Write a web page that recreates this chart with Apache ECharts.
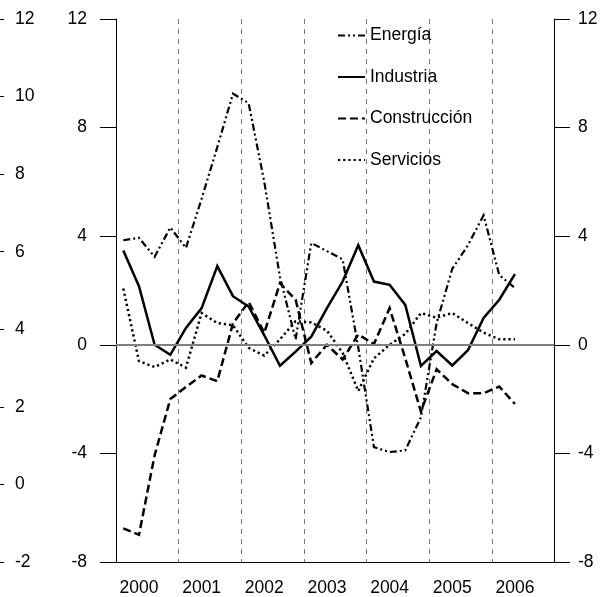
<!DOCTYPE html>
<html>
<head>
<meta charset="utf-8">
<script src="https://cdn.jsdelivr.net/npm/echarts@6/dist/echarts.min.js"></script>
<style>
html,body{margin:0;padding:0;background:#fff;overflow:hidden;width:100%;height:100%;}
#chart{width:100vw;height:100vh;}
</style>
</head>
<body>
<div id="chart"></div>
<script>
// ---- data (quarterly) ----
const years = ['2000', '2001', '2002', '2003', '2004', '2005', '2006'];
const seriesNames = ['Energía', 'Industria', 'Construcción', 'Servicios'];
const energia = [3.85, 3.94, 3.24, 4.32, 3.57, 5.38, 7.28, 9.25, 8.9, 6.0, 2.5, 0.2, 3.75, 3.45, 3.15, -0.1, -3.77, -3.95, -3.89, -2.67, 0.8, 2.8, 3.67, 4.77, 2.57, 2.09];
const industria = [3.47, 2.16, 0.0, -0.37, 0.62, 1.35, 2.9, 1.79, 1.41, 0.35, -0.77, -0.25, 0.3, 1.35, 2.33, 3.67, 2.33, 2.21, 1.47, -0.78, -0.23, -0.76, -0.2, 0.99, 1.66, 2.6];
const construccion = [-6.76, -7.0, -4.07, -2.0, -1.55, -1.13, -1.34, 0.78, 1.58, 0.44, 2.27, 1.66, -0.67, 0.0, -0.54, 0.38, 0.03, 1.35, -0.5, -2.46, -0.9, -1.45, -1.78, -1.78, -1.54, -2.18];
const servicios = [2.07, -0.6, -0.82, -0.54, -0.84, 1.17, 0.8, 0.72, -0.11, -0.4, 0.2, 0.87, 0.82, 0.52, -0.3, -1.7, -0.5, 0.0, 0.4, 1.17, 1.0, 1.17, 0.8, 0.45, 0.2, 0.2];

// ---- chart ----
const FONT = '"Liberation Sans", Arial, sans-serif';
const FS = 17.5;
const chart = echarts.init(document.getElementById('chart'), null, {renderer: 'canvas'});
const toXY = arr => arr.map((v, i) => [i, v]);
const yearLabelIdx = years.map((y, k) => 1 + 4 * k);

function lineSeries(name, data, type, width) {
  return {
    name: name, type: 'line', data: toXY(data), xAxisIndex: 0, yAxisIndex: 0,
    symbol: 'none', showSymbol: false, animation: false, silent: true,
    itemStyle: {color: '#000'},
    lineStyle: {color: '#000', width: width, type: type, cap: 'butt', join: 'miter'}
  };
}

const series = [
  lineSeries(seriesNames[0], energia, [7, 3, 2, 3, 2, 3], 2.2),
  lineSeries(seriesNames[1], industria, 'solid', 2.5),
  lineSeries(seriesNames[2], construccion, [8, 4], 2.5),
  lineSeries(seriesNames[3], servicios, [2.2, 3], 2.5)
];
series[1].markLine = {
  silent: true, symbol: ['none', 'none'], animation: false,
  label: {show: false},
  lineStyle: {color: '#808080', width: 2, type: 'solid'},
  data: [{yAxis: 0}]
};

const yCommon = {
  type: 'value', min: -8, max: 12, interval: 4,
  splitLine: {show: false},
  axisLine: {show: true, onZero: false, lineStyle: {color: '#000', width: 1}},
  axisTick: {show: true, length: 16, lineStyle: {color: '#000', width: 1}},
  axisLabel: {color: '#000', fontSize: FS, fontFamily: FONT}
};

const option = {
  backgroundColor: '#fff',
  animation: false,
  grid: {left: 116, right: 50, top: 19, bottom: 32, containLabel: false},
  legend: {
    orient: 'vertical', left: 337, top: 25, padding: 0,
    itemWidth: 27, itemHeight: 14, itemGap: 20.5,
    data: seriesNames,
    itemStyle: {opacity: 0},
    textStyle: {color: '#000', fontSize: FS, fontFamily: FONT, lineHeight: 21},
    selectedMode: false
  },
  xAxis: [{
    type: 'value', min: -0.466, max: 27.494, interval: 4,
    axisLine: {show: true, onZero: false, lineStyle: {color: '#000', width: 1}},
    axisTick: {show: false},
    splitLine: {show: true, lineStyle: {color: '#7a7a7a', width: 1, type: [5, 5]}},
    axisLabel: {
      color: '#000', fontSize: FS, fontFamily: FONT, margin: 17,
      customValues: yearLabelIdx,
      formatter: v => years[Math.round((v - 1) / 4)]
    }
  }],
  yAxis: [
    Object.assign({}, yCommon, {position: 'left', axisLabel: Object.assign({}, yCommon.axisLabel, {margin: 29})}),
    Object.assign({}, yCommon, {position: 'right', axisLabel: Object.assign({}, yCommon.axisLabel, {margin: 24})}),
    {
      type: 'value', min: -2, max: 12, interval: 2, position: 'left', offset: 128,
      splitLine: {show: false},
      axisLine: {show: false, onZero: false},
      axisTick: {show: true, inside: true, length: 16, lineStyle: {color: '#000', width: 1}},
      axisLabel: {inside: true, margin: 27, color: '#000', fontSize: FS, fontFamily: FONT}
    }
  ],
  series: series
};
chart.setOption(option);
window.addEventListener('resize', () => chart.resize());
</script>
</body>
</html>
